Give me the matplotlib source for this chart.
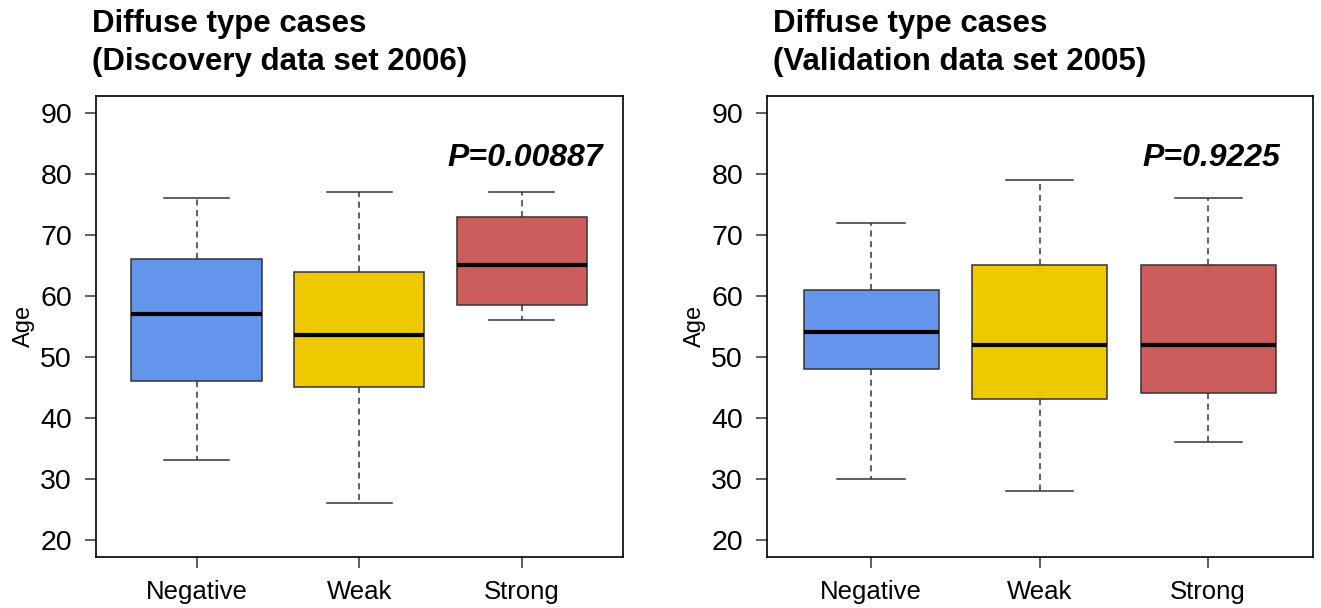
import matplotlib
matplotlib.use("Agg")
import matplotlib.pyplot as plt

plt.rcParams['font.family'] = ['Liberation Sans', 'DejaVu Sans']

groups = ['Negative', 'Weak', 'Strong']
colors = ['#6495ED', '#EEC900', '#CD5C5C']

# five-number summaries of age, per staining group
disc_lo = [33, 26, 56]
disc_q1 = [46, 45, 58.5]
disc_med = [57, 53.5, 65]
disc_q3 = [66, 64, 73]
disc_hi = [76, 77, 77]
disc_p = 'P=0.00887'

val_lo = [30, 28, 36]
val_q1 = [48, 43, 44]
val_med = [54, 52, 52]
val_q3 = [61, 65, 65]
val_hi = [72, 79, 76]
val_p = 'P=0.9225'

yticks = [20, 30, 40, 50, 60, 70, 80, 90]


def boxpanel(ax, lo, q1, med, q3, hi, ptext):
    stats = []
    for i in range(len(groups)):
        stats.append(dict(whislo=lo[i], q1=q1[i], med=med[i], q3=q3[i],
                          whishi=hi[i], fliers=[], label=groups[i]))
    bp = ax.bxp(stats, positions=[1, 2, 3], widths=0.8, patch_artist=True,
                showfliers=False,
                boxprops=dict(edgecolor='#333333', linewidth=1.1),
                medianprops=dict(color='black', linewidth=3, solid_capstyle='butt'),
                whiskerprops=dict(color='#333333', linewidth=1.1, linestyle=(0, (4, 3))),
                capprops=dict(color='#333333', linewidth=1.1),
                capwidths=0.4)
    for patch, c in zip(bp['boxes'], colors):
        patch.set_facecolor(c)
    ax.set_xlim(0.38, 3.62)
    ax.set_ylim(17.2, 92.8)
    ax.set_yticks(yticks)
    ax.set_xticks([1, 2, 3])
    ax.set_xticklabels(groups)
    ax.tick_params(axis='both', length=8, width=1.1, color='#333333', pad=9)
    ax.tick_params(axis='x', labelsize=18.5)
    ax.tick_params(axis='y', labelsize=20.5)
    for s in ax.spines.values():
        s.set_linewidth(1.2)
    ax.set_ylabel('Age', fontsize=17, labelpad=4)
    ax.text(3.02, 81.3, ptext, ha='center', va='baseline', fontsize=23,
            fontweight='bold', fontstyle='italic')


fig = plt.figure(figsize=(13.21, 6.08), dpi=100)
ax1 = fig.add_axes([0.0724, 0.0844, 0.399, 0.7577])
ax2 = fig.add_axes([0.5804, 0.0844, 0.4133, 0.7577])

boxpanel(ax1, disc_lo, disc_q1, disc_med, disc_q3, disc_hi, disc_p)
boxpanel(ax2, val_lo, val_q1, val_med, val_q3, val_hi, val_p)

# two-line panel titles, each line placed on its own baseline
titles = [('Diffuse type cases', '(Discovery data set 2006)', 0.0695),
          ('Diffuse type cases', '(Validation data set 2005)', 0.5855)]
for line1, line2, x in titles:
    fig.text(x, 0.9479, line1, ha='left', va='baseline', fontsize=22.5,
             fontweight='bold')
    fig.text(x, 0.8849, line2, ha='left', va='baseline', fontsize=22.5,
             fontweight='bold')

fig.savefig('out.png', dpi=100)
